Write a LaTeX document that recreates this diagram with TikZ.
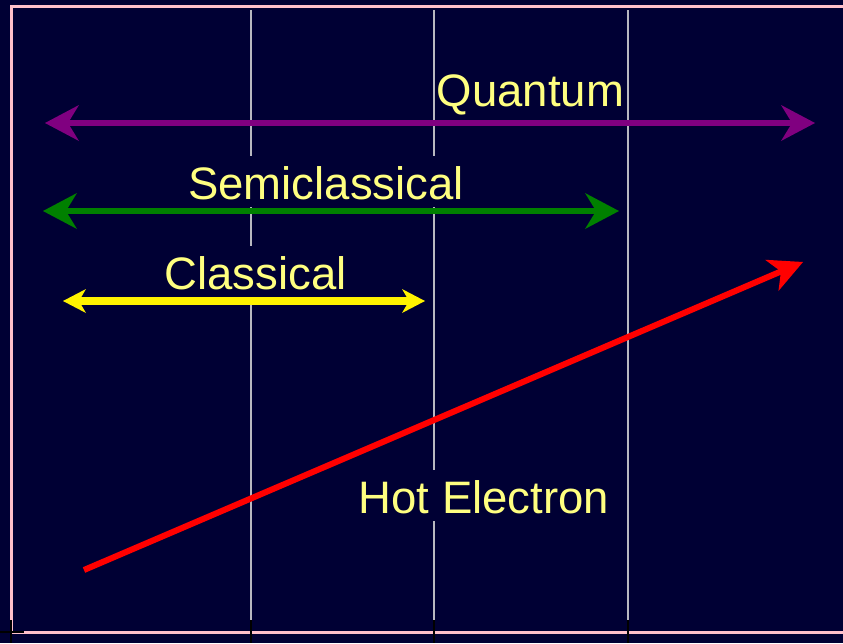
\documentclass[tikz,border=0pt]{standalone}
\usepackage{fontspec}
\setmainfont{Liberation Sans}
\usetikzlibrary{arrows.meta}
\definecolor{navybg}{RGB}{0,0,52}
\definecolor{framepink}{RGB}{255,192,203}
\definecolor{gridgray}{RGB}{184,184,192}
\definecolor{lblyellow}{RGB}{255,255,128}
\definecolor{qpurple}{RGB}{128,0,128}
\definecolor{sgreen}{RGB}{0,128,0}
\tikzset{
  vline/.style={draw=gridgray,line width=2.5pt},
  tickmark/.style={draw=black,line width=2.5pt},
  lbl/.style={font=\fontsize{45.5}{54}\selectfont,text=lblyellow,fill=navybg,anchor=base,
    inner xsep=0pt,inner ysep=3pt,text height=40pt,text depth=5pt},
  rangearr/.style={line width=6.5pt,{Stealth[length=34pt,width=36pt,inset=11pt,line width=0pt]}-{Stealth[length=34pt,width=36pt,inset=11pt,line width=0pt]}},
  smallarr/.style={line width=8pt,{Stealth[length=23pt,width=24pt,inset=7pt,line width=0pt]}-{Stealth[length=23pt,width=24pt,inset=7pt,line width=0pt]}},
  hotarr/.style={line width=6pt,-{Stealth[length=34pt,width=34pt,inset=10pt,line width=0pt]}}
}
\begin{document}
\begin{tikzpicture}[x=1pt,y=-1pt]
  \useasboundingbox (0,0) rectangle (843,643);
  \fill[navybg] (0,0) rectangle (843,643);

  % frame and regime boundaries
  \draw[framepink,line width=3pt] (846,6) -| (11,632) -- (846,632);
  \foreach \x in {251,434,628}
    \draw[vline] (\x,10) -- (\x,620);
  \foreach \x in {11,251,434,628}
    \draw[tickmark] (\x,620) -- (\x,643);
  \draw[tickmark] (0,632) -- (24,632);

  % labels
  \node[lbl] (quantum) at (530.5,106) {Quantum};
  \node[lbl] (semiclassical) at (326,199) {Semiclassical};
  \node[lbl] (classical) at (255.5,289) {Classical};
  \node[lbl] (hotelectron) at (484,513) {Hot Electron};

  % ranges
  \coordinate (qL) at (45,123);
  \coordinate (qR) at (815,123);
  \coordinate (sL) at (43,211);
  \coordinate (sR) at (619,211);
  \coordinate (cL) at (63,301);
  \coordinate (cR) at (425,301);
  \coordinate (hS) at (84,570);
  \coordinate (hE) at (803,262);

  \draw[rangearr,qpurple] (qL) -- (qR);
  \draw[rangearr,sgreen] (sL) -- (sR);
  \draw[smallarr,yellow] (cL) -- (cR);
  \draw[hotarr,red] (hS) -- (hE);
\end{tikzpicture}
\end{document}
